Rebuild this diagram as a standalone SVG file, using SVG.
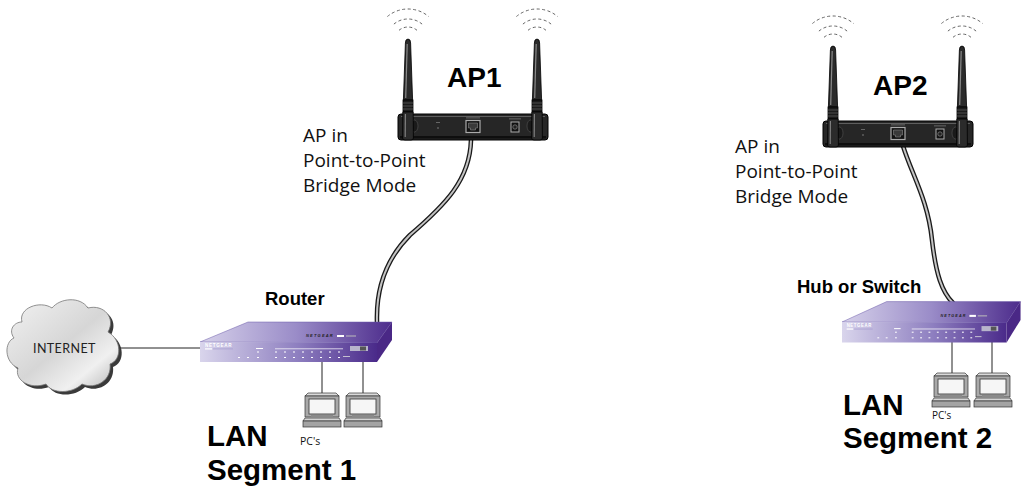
<svg xmlns="http://www.w3.org/2000/svg" xmlns:xlink="http://www.w3.org/1999/xlink" width="1023" height="487" viewBox="0 0 1023 487">
<style>
.bold{font-family:"Liberation Sans",Arial,sans-serif;font-weight:bold;fill:#000}
.hum{font-family:"Open Sans","Noto Sans",sans-serif;fill:#111}
.wave{fill:none;stroke:#666;stroke-width:1;stroke-dasharray:3 2.5}
.wire{fill:none;stroke:#222;stroke-width:1}
.cab-o{fill:none;stroke:#1a1a1a;stroke-width:4.6;stroke-linecap:round}
.cab-i{fill:none;stroke:#c4c4c4;stroke-width:2;stroke-linecap:round}
.led{fill:#fff}
</style>
<defs>
<linearGradient id="gTop" x1="0" y1="0" x2="1" y2="0">
<stop offset="0" stop-color="#d6d1ea"/><stop offset="0.5" stop-color="#9a8cc8"/><stop offset="1" stop-color="#4d2c8c"/>
</linearGradient>
<linearGradient id="gFront" x1="0" y1="0" x2="1" y2="0">
<stop offset="0" stop-color="#d9d5ec"/><stop offset="0.55" stop-color="#8e7fc0"/><stop offset="1" stop-color="#4a2a8a"/>
</linearGradient>
<linearGradient id="gCloud" x1="0" y1="0" x2="1" y2="1">
<stop offset="0" stop-color="#f2f2f2"/><stop offset="0.5" stop-color="#d6d6d6"/><stop offset="0.75" stop-color="#f0f0f0"/><stop offset="1" stop-color="#b0b0b0"/>
</linearGradient>
<g id="antenna">
<path d="M -2.6,4 Q -2.6,0 0,0 Q 2.6,0 2.6,4 L 4.6,61 L -4.6,61 Z" fill="#2b2b2b" stroke="#000" stroke-width="0.8"/>
<path d="M -0.8,5 L -2.3,59" stroke="#8a8a8a" stroke-width="1.2"/>
<rect x="-5" y="61" width="10" height="12" fill="#1c1c1c" stroke="#000" stroke-width="0.8"/>
<path d="M -5,64 H 5 M -5,67 H 5 M -5,70 H 5" stroke="#5a5a5a" stroke-width="0.8"/>
<path d="M -5.2,73 L 5.2,73 L 5.4,99 Q 5.4,101 3,101 L -3,101 Q -5.4,101 -5.4,99 Z" fill="#2b2b2b" stroke="#000" stroke-width="0.8"/>
<path d="M -2.6,75 L -2.8,98" stroke="#808080" stroke-width="1.2"/>
</g>
<g id="waves">
<path class="wave" d="M -20.6,-23.5 A 32 32 0 0 1 20.6,-23.5"/>
<path class="wave" d="M -14.1,-15.9 A 22 22 0 0 1 14.1,-15.9"/>
<path class="wave" d="M -9,-9.7 A 14 14 0 0 1 9,-9.7"/>
</g>
<g id="apdev">
<rect x="398" y="114" width="150" height="26" rx="3" fill="#262626" stroke="#000" stroke-width="1"/>
<path d="M 401,116.5 H 545" stroke="#5e5e5e" stroke-width="1"/>
<rect x="400" y="136" width="146" height="2.5" fill="#0e0e0e"/>
<ellipse cx="414.5" cy="126" rx="3.5" ry="6" fill="#1a1a1a" stroke="#555" stroke-width="0.6"/>
<ellipse cx="530.5" cy="126" rx="3.5" ry="6" fill="#1a1a1a" stroke="#555" stroke-width="0.6"/>
<rect x="436" y="122" width="4" height="0.8" fill="#777"/>
<circle cx="438" cy="128" r="0.7" fill="#999"/>
<rect x="466" y="117.5" width="14" height="0.8" fill="#777"/>
<rect x="466" y="120.5" width="14" height="12" fill="#111" stroke="#aaa" stroke-width="1.2"/>
<path d="M 468.5,123 H 477.5 V 128 H 475.5 V 130 H 470.5 V 128 H 468.5 Z" fill="#3a3a3a" stroke="#888" stroke-width="0.6"/>
<rect x="509" y="118.5" width="12" height="0.8" fill="#777"/>
<rect x="511" y="122" width="8" height="10" fill="#111" stroke="#aaa" stroke-width="1"/>
<circle cx="515" cy="127" r="2.2" fill="#222" stroke="#888" stroke-width="0.7"/>
<use xlink:href="#antenna" href="#antenna" transform="translate(408,39)"/>
<use xlink:href="#antenna" href="#antenna" transform="translate(537,39)"/>
<use xlink:href="#waves" href="#waves" transform="translate(408,40)"/>
<use xlink:href="#waves" href="#waves" transform="translate(537,40)"/>
</g>
<g id="netdev">
<polygon points="0,0 48,-20 192,-20 177,1" fill="url(#gTop)" stroke="#6a5aa8" stroke-width="0.5"/>
<polygon points="0,0 177,1 177,20 0,20" fill="url(#gFront)"/>
<polygon points="177,1 192,-20 192,-2 177,20" fill="#4a2886"/>
<text x="5" y="4.8" font-family="Liberation Sans,Arial,sans-serif" font-weight="bold" font-size="4.6" letter-spacing="0.7" fill="#fff">NETGEAR</text>
<rect x="5" y="6.3" width="7" height="1.2" fill="#fff"/>
<rect x="13" y="6.5" width="20" height="0.8" fill="#a89fd0"/>
<rect x="75" y="6.5" width="68" height="0.7" class="led"/>
<g class="led">
<rect x="75" y="9.5" width="2" height="1"/><rect x="84" y="9.5" width="2" height="1"/><rect x="93" y="9.5" width="2" height="1"/><rect x="102" y="9.5" width="2" height="1"/><rect x="111" y="9.5" width="2" height="1"/><rect x="120" y="9.5" width="2" height="1"/><rect x="129" y="9.5" width="2" height="1"/><rect x="138" y="9.5" width="2" height="1"/>
<rect x="75" y="15" width="2" height="1"/><rect x="84" y="15" width="2" height="1"/><rect x="93" y="15" width="2" height="1"/><rect x="102" y="15" width="2" height="1"/><rect x="111" y="15" width="2" height="1"/><rect x="120" y="15" width="2" height="1"/><rect x="129" y="15" width="2" height="1"/><rect x="138" y="15" width="2" height="1"/>
<rect x="38" y="15" width="2" height="1"/><rect x="47" y="15" width="2" height="1"/>
<rect x="56" y="6" width="7" height="1"/><rect x="57" y="9.5" width="2" height="1"/><rect x="57" y="15" width="2" height="1"/>
</g>
<rect x="143" y="14" width="7" height="0.8" fill="#ddd"/>
<rect x="150" y="4" width="18" height="5" fill="#b8b4cc"/>
<rect x="160" y="4.5" width="6" height="4" fill="#555"/>
<text x="106" y="-5" font-family="Liberation Sans,Arial,sans-serif" font-style="italic" font-weight="bold" font-size="4" letter-spacing="1.2" fill="#222">NETGEAR</text>
<rect x="137" y="-7" width="7" height="2" fill="#fff"/>
<rect x="146" y="-6.5" width="10" height="1" fill="#bbb"/>
</g>
<g id="pc">
<polygon points="3,0 31,0 34,3 0,3" fill="#dadada" stroke="#333" stroke-width="0.7"/>
<rect x="0" y="3" width="34" height="21" fill="#a9a9a9" stroke="#333" stroke-width="0.7"/>
<rect x="4" y="6" width="26" height="15" fill="#f6f6f6" stroke="#444" stroke-width="0.9"/>
<rect x="6" y="22" width="22" height="2" fill="#8a8a8a"/>
<polygon points="0,25 34,25 36,28 -2,28" fill="#d4d4d4" stroke="#333" stroke-width="0.7"/>
<rect x="-2" y="28" width="38" height="6" fill="#a4a4a4" stroke="#333" stroke-width="0.7"/>
</g>
</defs>
<rect width="1023" height="487" fill="#fff"/>

<g id="connectors">
<path class="wire" d="M 118,348 H 201" stroke="#444"/>
<path class="cab-o" d="M 471,140 C 470,180 445,205 410,235 C 385,260 376,290 377,322"/>
<path class="cab-i" d="M 471,140 C 470,180 445,205 410,235 C 385,260 376,290 377,322"/>
<path class="cab-o" d="M 903,146 C 912,175 928,200 932,240 C 936,275 942,292 953,303"/>
<path class="cab-i" d="M 903,146 C 912,175 928,200 932,240 C 936,275 942,292 953,303"/>
<path class="wire" d="M 322,362 V 393 M 363,362 V 393"/>
<path class="wire" d="M 952,342 V 373 M 992,342 V 373"/>
</g>

<g id="internet">
<path d="M 25,325 C 21,311 43,303 55,311 C 63,301 83,299 91,311 C 107,307 119,321 111,335 C 125,343 125,363 113,367 C 115,383 99,393 85,387 C 75,397 55,397 49,387 C 33,393 17,383 21,371 C 7,365 7,345 17,341 C 11,333 17,325 25,325 Z" fill="#3a3a3a"/>
<path d="M 22,322 C 18,308 40,300 52,308 C 60,298 80,296 88,308 C 104,304 116,318 108,332 C 122,340 122,360 110,364 C 112,380 96,390 82,384 C 72,394 52,394 46,384 C 30,390 14,380 18,368 C 4,362 4,342 14,338 C 8,330 14,322 22,322 Z" fill="url(#gCloud)" stroke="#777" stroke-width="0.8"/>
<text x="33" y="353" font-family="Lato,'Open Sans',sans-serif" font-size="12.5" letter-spacing="0.4" fill="#222">INTERNET</text>
</g>

<g id="router">
<use xlink:href="#netdev" href="#netdev" transform="translate(200,342)"/>
<text class="bold" x="265" y="305" font-size="18.5">Router</text>
</g>

<g id="hub">
<use xlink:href="#netdev" href="#netdev" transform="translate(842,322) scale(0.93,1.02)"/>
<text class="bold" x="797" y="293" font-size="18.5">Hub or Switch</text>
</g>

<g id="ap1">
<use xlink:href="#apdev" href="#apdev"/>
<text class="bold" x="447" y="87" font-size="28">AP1</text>
<text class="hum" x="303" y="142" font-size="19">AP in</text>
<text class="hum" x="303" y="167" font-size="19">Point-to-Point</text>
<text class="hum" x="303" y="192" font-size="19">Bridge Mode</text>
</g>

<g id="ap2">
<use xlink:href="#apdev" href="#apdev" transform="translate(425,7)"/>
<text class="bold" x="873" y="95" font-size="28">AP2</text>
<text class="hum" x="735" y="153" font-size="19">AP in</text>
<text class="hum" x="735" y="178" font-size="19">Point-to-Point</text>
<text class="hum" x="735" y="203" font-size="19">Bridge Mode</text>
</g>

<g id="pcs1">
<use xlink:href="#pc" href="#pc" transform="translate(305,393)"/>
<use xlink:href="#pc" href="#pc" transform="translate(346,393)"/>
<text class="hum" x="300" y="445" font-size="10.5">PC's</text>
</g>

<g id="pcs2">
<use xlink:href="#pc" href="#pc" transform="translate(934,373)"/>
<use xlink:href="#pc" href="#pc" transform="translate(976,373)"/>
<text class="hum" x="932" y="419" font-size="10">PC's</text>
</g>

<g id="lan1">
<text class="bold" x="207" y="446" font-size="29.5">LAN</text>
<text class="bold" x="207" y="480" font-size="29.5">Segment 1</text>
</g>

<g id="lan2">
<text class="bold" x="843" y="415" font-size="29.5">LAN</text>
<text class="bold" x="843" y="448" font-size="29.5">Segment 2</text>
</g>
</svg>
